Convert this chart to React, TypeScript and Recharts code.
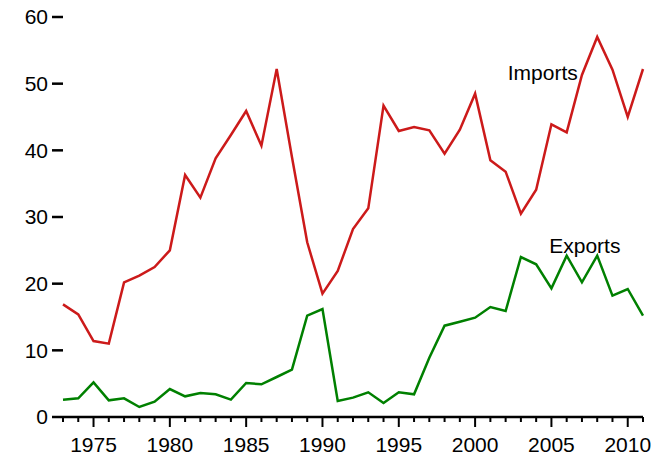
import { LineChart, Line, XAxis, YAxis, ReferenceDot } from 'recharts';

const FONT = '"Liberation Sans", Arial, Helvetica, sans-serif';

const years = [
  1973, 1974, 1975, 1976, 1977, 1978, 1979, 1980, 1981, 1982,
  1983, 1984, 1985, 1986, 1987, 1988, 1989, 1990, 1991, 1992,
  1993, 1994, 1995, 1996, 1997, 1998, 1999, 2000, 2001, 2002,
  2003, 2004, 2005, 2006, 2007, 2008, 2009, 2010, 2011,
];

const imports = [
  16.9, 15.4, 11.4, 11.0, 20.2, 21.2, 22.5, 25.0, 36.3, 32.9,
  38.8, 42.3, 45.9, 40.7, 52.2, 39.0, 26.2, 18.5, 21.9, 28.2,
  31.3, 46.7, 42.9, 43.5, 43.0, 39.5, 43.1, 48.5, 38.5, 36.8,
  30.5, 34.1, 43.9, 42.7, 51.3, 57.0, 52.1, 45.0, 52.2,
];

const exportsSeries = [
  2.6, 2.8, 5.2, 2.5, 2.8, 1.5, 2.3, 4.2, 3.1, 3.6,
  3.4, 2.6, 5.1, 4.9, 6.0, 7.1, 15.2, 16.2, 2.4, 2.9,
  3.7, 2.1, 3.7, 3.4, 8.9, 13.7, 14.3, 14.9, 16.5, 15.9,
  24.0, 22.9, 19.3, 24.2, 20.2, 24.2, 18.2, 19.2, 15.2,
];

const yTicks = [0, 10, 20, 30, 40, 50, 60];

// series name labels, placed in data coordinates (baseline of the text)
const labelNames = ['Imports', 'Exports'];
const labelYears = [2004.43, 2007.19];
const labelValues = [50.55, 24.65];

const data = years.map((year, i) => ({ year, imports: imports[i], exports: exportsSeries[i] }));

function YearTick({ x, y, payload }: any) {
  const year = payload.value as number;
  const major = year % 5 === 0;
  return (
    <g>
      <line x1={x} x2={x} y1={y} y2={y + (major ? 10 : 5)} stroke="#000" strokeWidth={2} />
      {major && (
        <text x={x} y={y + 35} textAnchor="middle" fontSize={21} fontFamily={FONT} fill="#000">
          {year}
        </text>
      )}
    </g>
  );
}

export default function App() {
  return (
    <div style={{ position: 'absolute', left: 0, top: 0, background: '#fff' }}>
      <LineChart width={657} height={456} data={data} margin={{ top: 17, right: 14, bottom: 0, left: 0 }}>
        <XAxis
          dataKey="year"
          type="number"
          domain={[1973, 2011]}
          ticks={years}
          interval={0}
          height={39}
          tickSize={0}
          tickMargin={0}
          tickLine={false}
          axisLine={{ stroke: '#000', strokeWidth: 2.5 }}
          tick={<YearTick />}
        />
        <YAxis
          domain={[0, 60]}
          ticks={yTicks}
          width={63}
          axisLine={false}
          tickSize={11}
          tickMargin={4}
          tickLine={{ stroke: '#000', strokeWidth: 2.5 }}
          tick={{ fontSize: 21, fontFamily: FONT, fill: '#000' }}
        />
        <Line
          type="linear"
          dataKey="imports"
          stroke="#cc1a1a"
          strokeWidth={2.5}
          dot={false}
          isAnimationActive={false}
        />
        <Line
          type="linear"
          dataKey="exports"
          stroke="#008000"
          strokeWidth={2.5}
          dot={false}
          isAnimationActive={false}
        />
        {labelNames.map((name, i) => (
          <ReferenceDot
            key={name}
            x={labelYears[i]}
            y={labelValues[i]}
            r={0}
            shape={(p: any) => (
              <text x={p.cx} y={p.cy} textAnchor="middle" fontSize={21} fontFamily={FONT} fill="#000">
                {name}
              </text>
            )}
          />
        ))}
      </LineChart>
    </div>
  );
}
